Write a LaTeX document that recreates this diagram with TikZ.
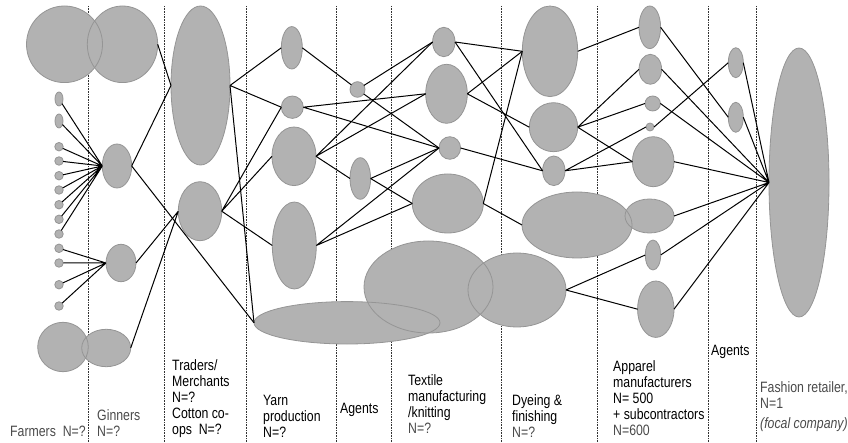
\documentclass[tikz,border=0pt]{standalone}
\usepackage{fontspec}
\setmainfont{Liberation Sans}[FakeStretch=0.82]
\usepackage{tikz}
\usetikzlibrary{shapes.geometric}
\definecolor{blobgray}{HTML}{B2B2B2}
\definecolor{rimgray}{HTML}{959595}
\definecolor{txtgray}{HTML}{4A4A4A}
\newcommand{\lblfont}{\fontsize{15}{15.8}\selectfont}
\tikzstyle{blob} = [ellipse, fill=blobgray, draw=rimgray, line width=0.8pt, inner sep=0pt, outer sep=0pt]
\tikzstyle{dot} = [blob, minimum width=8.5pt, minimum height=8.5pt]
\tikzstyle{link} = [line width=1pt]
\tikzstyle{divider} = [densely dotted, line width=0.6pt, black!80]
\tikzstyle{lbl} = [anchor=base west, align=left, inner sep=0pt, font=\lblfont]
\tikzstyle{lblgray} = [lbl, text=txtgray]

\begin{document}
\begin{tikzpicture}[x=1pt,y=-1pt]
\useasboundingbox (0,0) rectangle (848,443);
% stage borders
\draw[divider] (88.5,6) -- (88.5,443);
\draw[divider] (164.5,6) -- (164.5,443);
\draw[divider] (246.7,6) -- (246.7,443);
\draw[divider] (336.7,6) -- (336.7,443);
\draw[divider] (391.7,6) -- (391.7,443);
\draw[divider] (501.7,6) -- (501.7,443);
\draw[divider] (597.7,6) -- (597.7,443);
\draw[divider] (708.3,6) -- (708.3,443);
\draw[divider] (756.3,6) -- (756.3,443);

\begin{scope}[blend group=darken]
% farmers
\node[blob, minimum width=76pt, minimum height=76.6pt] (f0) at (64.5,44.3) {};
\node[blob, minimum width=8pt, minimum height=14pt] (d1) at (59,99) {};
\node[blob, minimum width=8pt, minimum height=14pt] (d2) at (59,121) {};
\node[dot] (d3) at (59,146.7) {};
\node[dot] (d4) at (59,161) {};
\node[dot] (d5) at (59,175.7) {};
\node[dot] (d6) at (59,190) {};
\node[dot] (d7) at (59,204.7) {};
\node[dot] (d8) at (59,219.3) {};
\node[dot] (d9) at (59,234) {};
\node[dot] (d10) at (59,248.3) {};
\node[dot] (d11) at (59,263) {};
\node[dot] (d12) at (59,284.7) {};
\node[dot] (d13) at (59,306) {};
\node[blob, minimum width=50.6pt, minimum height=49.4pt] (f1) at (63,347) {};
% ginners
\node[blob, minimum width=70.4pt, minimum height=76.6pt] (g0) at (122.5,44.3) {};
\node[blob, minimum width=29.4pt, minimum height=44pt] (g1) at (117,166) {};
\node[blob, minimum width=30pt, minimum height=37.4pt] (g2) at (121,263) {};
\node[blob, minimum width=49pt, minimum height=37.4pt] (g3) at (106.2,348) {};
% traders
\node[blob, minimum width=59pt, minimum height=159pt] (t1) at (200.5,85.5) {};
\node[blob, minimum width=43.4pt, minimum height=59pt] (t2) at (200,211.2) {};
% yarn
\node[blob, minimum width=21pt, minimum height=42.4pt] (y1) at (291.8,47.8) {};
\node[blob, minimum width=22pt, minimum height=22.4pt] (y2) at (292.3,107.2) {};
\node[blob, minimum width=44pt, minimum height=58.6pt] (y3) at (294,156.3) {};
\node[blob, minimum width=44pt, minimum height=87pt] (y4) at (294.3,245.5) {};
\node[blob, minimum width=186pt, minimum height=42.4pt] (y5) at (347,322.8) {};
% agents
\node[blob, minimum width=15pt, minimum height=15.6pt] (a1) at (357.5,89.5) {};
\node[blob, minimum width=20.6pt, minimum height=41.6pt] (a2) at (360.3,178.5) {};
% textile
\node[blob, minimum width=22.4pt, minimum height=29.4pt] (x1) at (443.8,42) {};
\node[blob, minimum width=41.6pt, minimum height=59pt] (x2) at (446.5,93.8) {};
\node[blob, minimum width=21.6pt, minimum height=22.6pt] (x3) at (449.8,148) {};
\node[blob, minimum width=71pt, minimum height=59pt] (x4) at (447.8,203.5) {};
\node[blob, minimum width=129pt, minimum height=92pt] (x5) at (428.5,287) {};
% dyeing
\node[blob, minimum width=55.4pt, minimum height=90.6pt] (e1) at (550,51.3) {};
\node[blob, minimum width=48.4pt, minimum height=49pt] (e2) at (553.5,127.2) {};
\node[blob, minimum width=22.4pt, minimum height=29.6pt] (e3) at (553.8,170.8) {};
\node[blob, minimum width=110pt, minimum height=66pt] (e4) at (577,225) {};
\node[blob, minimum width=98pt, minimum height=74pt] (e5) at (517,290) {};
% apparel
\node[blob, minimum width=21.6pt, minimum height=42.6pt] (p1) at (649.8,27.3) {};
\node[blob, minimum width=22.6pt, minimum height=30pt] (p2) at (650.3,69.3) {};
\node[blob, minimum width=15.4pt, minimum height=15pt] (p3) at (652.7,103.5) {};
\node[blob, minimum width=8pt, minimum height=8pt] (p4) at (650,127) {};
\node[blob, minimum width=41.6pt, minimum height=50pt] (p5) at (653.2,161.7) {};
\node[blob, minimum width=49pt, minimum height=34pt] (p6) at (649.5,216) {};
\node[blob, minimum width=15.4pt, minimum height=30pt] (p7) at (653,255) {};
\node[blob, minimum width=36.4pt, minimum height=56.4pt] (p8) at (655.8,309.2) {};
% agents, retailer
\node[blob, minimum width=15pt, minimum height=30pt] (q1) at (735.8,62.7) {};
\node[blob, minimum width=15pt, minimum height=30pt] (q2) at (735.8,117.3) {};
\node[blob, minimum width=60pt, minimum height=269pt] (r) at (799,182.5) {};
\end{scope}

% ties
\draw[link] (d1) -- (g1.west) (d2) -- (g1.west) (d3) -- (g1.west) (d4) -- (g1.west) (d5) -- (g1.west)
  (d6) -- (g1.west) (d7) -- (g1.west) (d8) -- (g1.west) (d9) -- (g1.west);
\draw[link] (d10) -- (g2.west) (d11) -- (g2.west) (d12) -- (g2.west) (d13) -- (g2.west);
\draw[link] (g0.east) -- (t1.west) (g1.east) -- (t1.west) (g1.east) -- (y5.west);
\draw[link] (g2.east) -- (t2.west) (g3.east) -- (t2.west);
\draw[link] (t1.east) -- (y1.west) (t1.east) -- (y2.west) (t1.east) -- (y5.west);
\draw[link] (t2.east) -- (y2.west) (t2.east) -- (y3.west) (t2.east) -- (y4.west);
\draw[link] (y1.east) -- (a1);
\draw[link] (y2.east) -- (x2.west) (y2.east) -- (x3.west);
\draw[link] (a1) -- (x1.west) (a1) -- (x3.west);
\draw[link] (y3.east) -- (x1.west) (y3.east) -- (x2.west) (y3.east) -- (a2.west);
\draw[link] (y4.east) -- (x3.west) (y4.east) -- (x4.west);
\draw[link] (a2.east) -- (x3.west) (a2.east) -- (x4.west);
\draw[link] (x1.east) -- (e1.west) (x1.east) -- (e3.west);
\draw[link] (x2.east) -- (e1.west) (x2.east) -- (e2.west);
\draw[link] (x3.east) -- (e3.west);
\draw[link] (x4.east) -- (e1.west) (x4.east) -- (e4.west);
\draw[link] (e1.east) -- (p1.west);
\draw[link] (e2.east) -- (p2.west) (e2.east) -- (p3.west) (e2.east) -- (p5.west);
\draw[link] (e3.east) -- (p4.west) (e3.east) -- (p5.west);
\draw[link] (e5.east) -- (p7.west) (e5.east) -- (p8.west);
\draw[link] (p1.east) -- (q2.west) (p4.east) -- (q1.west);
\draw[link] (p2.east) -- (r.west) (p3.east) -- (r.west) (p5.east) -- (r.west) (p6.east) -- (r.west)
  (p7.east) -- (r.west) (p8.east) -- (r.west) (q1.east) -- (r.west) (q2.east) -- (r.west);

% stage names (base = last line)
\node[lblgray] (farmlbl) at (10,436) {Farmers\ \ N=?};
\node[lblgray] (ginlbl) at (97,436) {Ginners\\N=?};
\node[lbl] (tradelbl) at (172,434) {Traders/\\Merchants\\N=?\\Cotton co-\\ops\ \ N=?};
\node[lbl] (yarnlbl) at (263,437) {Yarn\\production\\N=?};
\node[lbl] (agentlbl) at (340,413) {Agents};
\node[lbl] (textlbl) at (408,433) {Textile\\manufacturing\\/knitting\\\textcolor{txtgray}{N=?}};
\node[lbl] (dyelbl) at (512,437) {Dyeing \&\\finishing\\\textcolor{txtgray}{N=?}};
\node[lbl] (apparlbl) at (613,435) {Apparel\\manufacturers\\N= 500\\+ subcontractors\\\textcolor{txtgray}{N=600}};
\node[lbl] (agent2lbl) at (711,355) {Agents};
\node[lblgray] (retaillbl) at (760,428) {Fashion retailer,\\N=1\\[4pt]\textit{(focal company)}};
\end{tikzpicture}
\end{document}
